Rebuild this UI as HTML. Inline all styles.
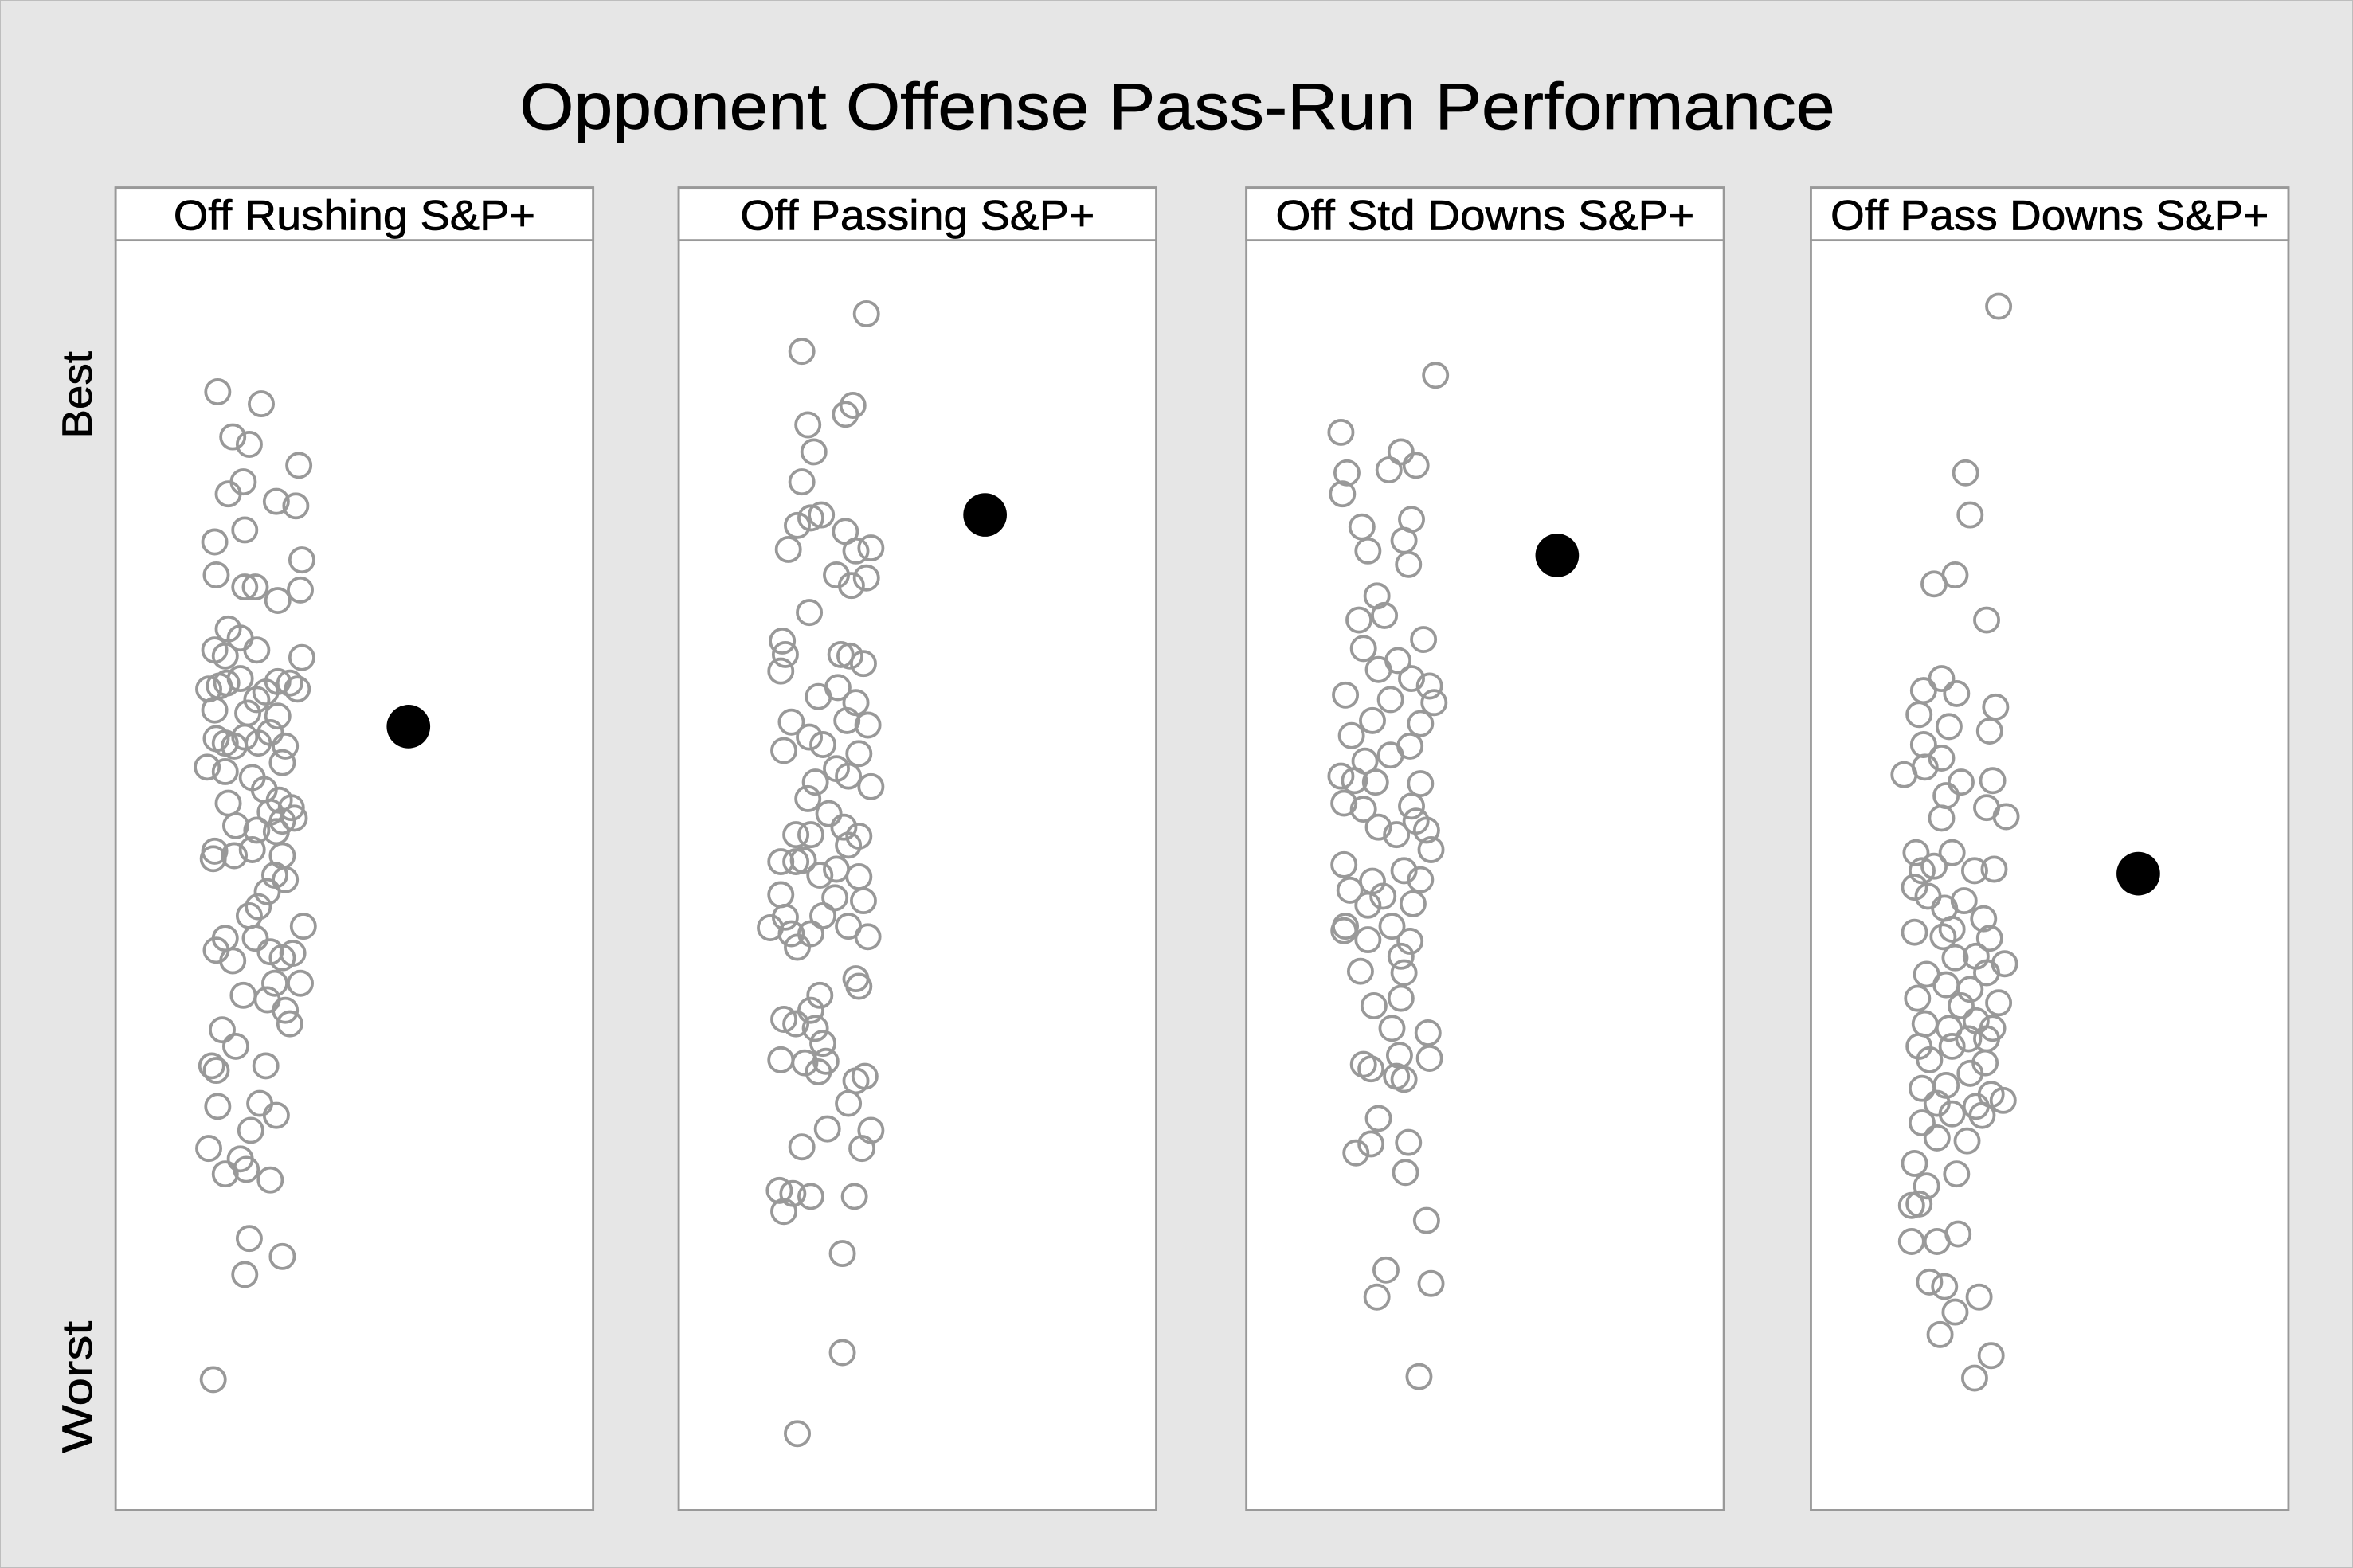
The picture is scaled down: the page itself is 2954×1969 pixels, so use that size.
<!DOCTYPE html>
<html><head><meta charset="utf-8"><style>
html,body{margin:0;padding:0;background:#e6e6e6;}
svg{display:block;}
text{font-family:"Liberation Sans",sans-serif;fill:#000;stroke:#000;stroke-width:0.35;}
</style></head><body>
<svg id="chart" width="2954" height="1969" viewBox="0 0 1567 1044.5" preserveAspectRatio="none" xmlns="http://www.w3.org/2000/svg">
<rect x="0" y="0" width="1567" height="1044.5" fill="#e6e6e6" stroke="#bbb" stroke-width="1"/>
<text x="784" y="86" font-size="44" text-anchor="middle" textLength="876" lengthAdjust="spacingAndGlyphs">Opponent Offense Pass-Run Performance</text>
<text transform="translate(61,263) rotate(-90)" font-size="28" text-anchor="middle" textLength="58" lengthAdjust="spacingAndGlyphs">Best</text>
<text transform="translate(61,924) rotate(-90)" font-size="28" text-anchor="middle" textLength="88" lengthAdjust="spacingAndGlyphs">Worst</text>
<g id="panels"></g>
</svg>
<script>
const panelTitles = ["Off Rushing S&P+","Off Passing S&P+","Off Std Downs S&P+","Off Pass Downs S&P+"];
const titleWidths = [241,236,279,292];
// team (highlighted) values: [jitter, rankPos]
const teamValues = [[195,484],[204,343],[207,370],[218,582]];
// all-team points per metric: [jitter, rankPos]
const rushPts = [[68,261],[97,269],[78,291],[89,296],[122,310],[85,321],[75,329],[107,334],[120,337],[66,361],[86,353],[124,373],[67,383],[86,391],[93,391],[123,393],[108,400],[75,419],[83,425],[66,433],[94,433],[124,438],[73,437],[62,459],[69,457],[74,455],[83,452],[100,461],[108,454],[116,455],[121,459],[94,466],[66,473],[88,475],[108,477],[103,488],[67,492],[73,495],[79,497],[86,491],[95,495],[113,497],[61,511],[73,514],[111,508],[91,518],[99,526],[109,533],[75,535],[117,538],[103,541],[111,547],[80,550],[94,553],[107,554],[119,545],[66,567],[65,572],[79,570],[91,566],[111,570],[106,583],[113,586],[101,594],[95,604],[89,610],[125,617],[73,625],[67,633],[78,640],[93,625],[103,634],[111,638],[118,635],[85,663],[106,655],[123,655],[101,666],[113,673],[116,682],[71,686],[80,697],[64,710],[67,713],[100,710],[68,737],[96,735],[107,743],[90,753],[62,765],[83,772],[73,782],[87,779],[103,786],[89,825],[111,837],[86,849],[65,919]];
const passPts = [[125,209],[82,234],[116,270],[111,276],[86,283],[90,301],[82,321],[73,366],[79,350],[88,345],[95,343],[111,354],[128,365],[118,367],[105,383],[125,385],[115,390],[87,408],[69,427],[71,436],[108,436],[114,437],[123,442],[68,447],[106,458],[93,464],[118,468],[75,481],[112,480],[126,483],[87,491],[96,496],[70,500],[105,512],[120,502],[113,517],[128,524],[91,521],[86,532],[100,542],[110,551],[120,557],[88,556],[78,556],[113,563],[105,579],[68,574],[78,574],[83,573],[94,583],[120,584],[68,596],[104,598],[123,600],[71,611],[96,610],[61,618],[75,622],[88,622],[113,617],[126,624],[79,631],[118,652],[120,657],[94,663],[88,673],[70,679],[78,682],[91,685],[96,695],[68,706],[84,708],[98,707],[93,714],[124,717],[118,720],[113,735],[99,752],[128,753],[122,765],[82,764],[67,793],[76,795],[88,797],[70,807],[117,797],[109,835],[109,901],[79,955]];
const stdPts = [[126,250],[63,288],[103,301],[113,310],[95,313],[67,315],[64,329],[110,346],[77,351],[81,367],[105,360],[108,376],[87,397],[75,413],[92,410],[78,432],[101,440],[118,426],[88,446],[66,463],[96,466],[110,452],[122,457],[125,468],[84,480],[70,490],[116,482],[79,507],[96,503],[109,497],[63,517],[72,520],[86,521],[116,522],[65,535],[78,539],[110,537],[88,551],[100,556],[113,547],[120,553],[123,566],[65,576],[84,587],[105,580],[116,586],[69,593],[91,597],[111,602],[81,603],[66,617],[97,617],[81,626],[109,627],[65,620],[103,637],[76,647],[105,648],[85,670],[103,665],[97,685],[121,688],[78,709],[102,703],[122,705],[100,717],[83,712],[105,719],[88,745],[73,768],[83,762],[108,761],[106,781],[120,813],[93,846],[123,855],[87,864],[115,917]];
const pdPts = [[125,204],[103,315],[106,343],[96,383],[82,389],[117,413],[87,452],[75,460],[97,462],[123,471],[72,476],[92,484],[119,487],[75,496],[87,505],[62,516],[76,511],[100,521],[90,530],[121,520],[117,538],[130,544],[87,545],[70,568],[94,568],[74,580],[82,577],[109,580],[122,579],[69,591],[78,597],[102,600],[89,605],[94,619],[115,612],[69,621],[88,624],[119,625],[96,638],[110,637],[129,642],[77,649],[90,656],[106,659],[117,648],[71,665],[100,670],[125,668],[76,682],[92,685],[110,680],[121,685],[105,692],[72,697],[94,697],[117,692],[79,706],[116,708],[106,715],[74,725],[90,723],[120,729],[84,735],[110,737],[128,733],[94,742],[114,743],[74,748],[84,758],[104,760],[69,775],[97,782],[77,790],[67,803],[72,802],[98,822],[67,827],[84,827],[79,854],[89,857],[112,864],[96,874],[86,889],[120,903],[109,918]];
const allPts = [rushPts, passPts, stdPts, pdPts];

const panelLefts = [77,452,830,1206];
const panelW = 318, headTop = 125, headH = 35, plotBottom = 1006;
const rankMin = 160, rankMax = 1006;
function yScale(v){ return headTop+headH + (v-rankMin)/(rankMax-rankMin)*(plotBottom-headTop-headH); }
function xScale(p,j){ return panelLefts[p] + j; }
const NS="http://www.w3.org/2000/svg";
const g=document.getElementById('panels');
function mk(tag,attrs,parent){const e=document.createElementNS(NS,tag);for(const k in attrs)e.setAttribute(k,attrs[k]);parent.appendChild(e);return e;}
panelTitles.forEach((t,p)=>{
  const pg=mk('g',{},g);
  
  
  const fr=mk('rect',{x:panelLefts[p],y:headTop,width:panelW,height:plotBottom-headTop,fill:'#fff',stroke:'#999','stroke-width':1.5},pg);
  
  
  const hd=mk('rect',{x:panelLefts[p],y:headTop,width:panelW,height:headH,fill:'#fff',stroke:'#999','stroke-width':1.5},pg);
  
  
  const tx=mk('text',{x:panelLefts[p]+panelW/2,y:headTop+28,'font-size':28,'text-anchor':'middle',textLength:titleWidths[p],lengthAdjust:'spacingAndGlyphs'},pg);
  tx.textContent=t;
  
  
  allPts[p].forEach(d=>{
    const c=mk('circle',{cx:xScale(p,d[0]),cy:yScale(d[1]),r:8,fill:'none',stroke:'#999','stroke-width':2},pg);
    
    
  });
  const tv=teamValues[p];
  const b=mk('circle',{cx:xScale(p,tv[0]),cy:yScale(tv[1]),r:14.5,fill:'#000'},pg);
  
  
});
</script>
</body></html>
